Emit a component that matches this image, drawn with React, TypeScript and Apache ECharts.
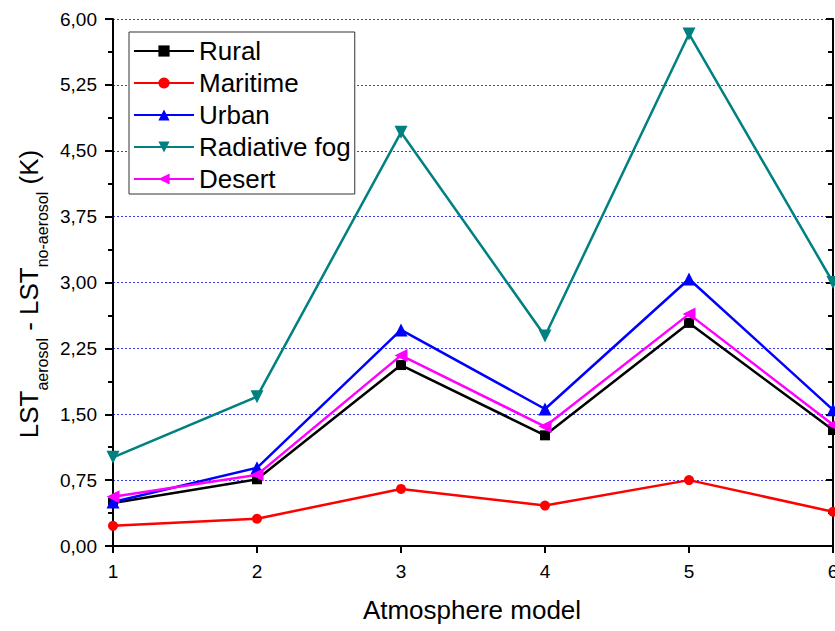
import React, { useEffect, useRef } from 'react';
import * as echarts from 'echarts';

const models = [1, 2, 3, 4, 5, 6];
const rural = [0.49, 0.76, 2.06, 1.26, 2.54, 1.32];
const maritime = [0.23, 0.31, 0.65, 0.46, 0.75, 0.39];
const urban = [0.5, 0.89, 2.46, 1.56, 3.04, 1.55];
const radiativeFog = [1.01, 1.7, 4.71, 2.39, 5.83, 3.0];
const desert = [0.56, 0.81, 2.17, 1.36, 2.64, 1.38];

const seriesNames = ['Rural', 'Maritime', 'Urban', 'Radiative fog', 'Desert'];
const seriesValues = [rural, maritime, urban, radiativeFog, desert];
const seriesColors = ['#000000', '#ff0000', '#0000ff', '#008080', '#ff00ff'];
const seriesSymbols = ['rect', 'circle', 'triangle', 'triangle', 'triangle'];
const seriesRotations = [0, 0, 0, 180, 90];
const seriesSizes = [10, 10, 13, 13, 13];

const xTitle = 'Atmosphere model';

const FONT = '"Liberation Sans", Arial, sans-serif';

export default function App() {
  const ref = useRef<HTMLDivElement>(null);

  useEffect(() => {
    if (!ref.current) return;
    const chart = echarts.init(ref.current, undefined, { renderer: 'svg' });

    const fmt = (v: number) => v.toFixed(2).replace('.', ',');
    const axisLine = { show: true, lineStyle: { color: '#000', width: 2 } };

    const option: any = {
      animation: false,
      backgroundColor: '#fff',
      grid: { left: 113, top: 19, right: 2, bottom: 85, containLabel: false, outerBoundsMode: 'none' },
      legend: {
        orient: 'vertical',
        left: 129,
        top: 32,
        padding: [6, 4, 2, 4],
        itemWidth: 60,
        itemHeight: 14,
        itemGap: 6,
        backgroundColor: '#fff',
        borderColor: '#333',
        borderWidth: 1,
        borderRadius: 0,
        selectedMode: false,
        textStyle: { fontSize: 26, color: '#000', fontFamily: FONT },
        data: seriesNames,
        z: 10,
      },
      xAxis: [
        {
          type: 'value',
          min: 1,
          max: 6,
          interval: 1,
          position: 'bottom',
          axisLine,
          axisTick: { show: true, inside: false, length: 7, lineStyle: { color: '#000', width: 2 } },
          axisLabel: { fontSize: 19, color: '#000', fontFamily: FONT, margin: 16 },
          splitLine: { show: false },
        },
        {
          type: 'value',
          min: 1,
          max: 6,
          interval: 1,
          position: 'top',
          axisLine,
          axisTick: { show: true, inside: true, length: 7, lineStyle: { color: '#000', width: 2 } },
          axisLabel: { show: false },
          splitLine: { show: false },
        },
      ],
      yAxis: [
        {
          type: 'value',
          min: 0,
          max: 6,
          interval: 0.75,
          position: 'left',
          axisLine,
          axisTick: { show: true, inside: false, length: 8, lineStyle: { color: '#000', width: 2 } },
          minorTick: { show: true, splitNumber: 2, length: 5, lineStyle: { color: '#000', width: 2 } },
          axisLabel: { fontSize: 19, color: '#000', fontFamily: FONT, margin: 16, formatter: fmt },
          splitLine: { show: true, lineStyle: { color: '#3a3aff', type: [2, 2], width: 1 } },
        },
        {
          type: 'value',
          min: 0,
          max: 6,
          interval: 0.75,
          position: 'right',
          axisLine,
          axisTick: { show: true, inside: true, length: 7, lineStyle: { color: '#000', width: 2 } },
          minorTick: { show: true, splitNumber: 2, length: 5, lineStyle: { color: '#000', width: 2 } },
          axisLabel: { show: false },
          splitLine: { show: false },
        },
      ],
      series: seriesNames.map((name, k) => ({
        name,
        type: 'line',
        xAxisIndex: 0,
        yAxisIndex: 0,
        data: models.map((m, i) => [m, seriesValues[k][i]]),
        symbol: seriesSymbols[k],
        symbolSize: seriesSizes[k],
        symbolRotate: seriesRotations[k],
        showAllSymbol: true,
        clip: false,
        lineStyle: { color: seriesColors[k], width: 2.5 },
        itemStyle: { color: seriesColors[k] },
        z: 2 + k,
      })),
      graphic: [
        {
          type: 'text',
          x: 29,
          y: 294,
          rotation: Math.PI / 2,
          style: {
            text: '{m|LST}{s|aerosol}{m| - LST}{s|no-aerosol}{m| (K)}',
            align: 'center',
            verticalAlign: 'middle',
            rich: {
              m: { fontSize: 26, lineHeight: 26, verticalAlign: 'top', fontFamily: FONT, fill: '#000' },
              s: { fontSize: 16, lineHeight: 16, verticalAlign: 'top', padding: [18, 0, 0, 0], fontFamily: FONT, fill: '#000' },
            },
          },
        },
        {
          type: 'text',
          x: 472,
          y: 610,
          style: {
            text: xTitle,
            fontSize: 26,
            fontFamily: FONT,
            fill: '#000',
            align: 'center',
            verticalAlign: 'middle',
          },
        },
      ],
    };

    chart.setOption(option);
    return () => chart.dispose();
  }, []);

  return (
    <div
      ref={ref}
      style={{ position: 'fixed', left: 0, top: 0, width: 835, height: 631 }}
    />
  );
}
